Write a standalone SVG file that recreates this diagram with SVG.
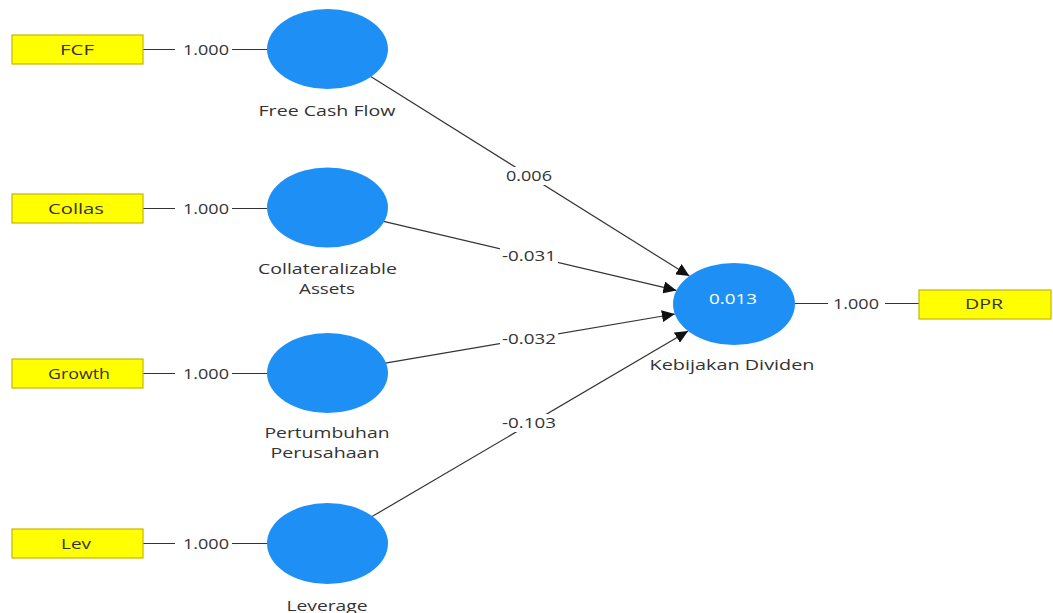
<svg xmlns="http://www.w3.org/2000/svg" width="1053" height="613" viewBox="0 0 1053 613">
<style>
.ind{fill:#ffff00;stroke:#c8b400;stroke-width:1.2}
.lv{fill:#1e90f5}
.ln{stroke:#333;stroke-width:1.2;fill:none}
.t{font-family:"Open Sans","Liberation Sans",sans-serif;font-size:15px;fill:#333;text-anchor:middle}
.w{fill:#fff}
</style>
<defs>
<marker id="ah" markerUnits="userSpaceOnUse" markerWidth="14" markerHeight="12" refX="13" refY="6" orient="auto">
<path d="M0,0 L13,6 L0,12 z" fill="#111"/>
</marker>
</defs>
<rect width="1053" height="613" fill="#fff"/>
<g id="connectors">
<line class="ln" x1="143" y1="49.5" x2="267" y2="49.5"/>
<line class="ln" x1="143" y1="208.5" x2="267" y2="208.5"/>
<line class="ln" x1="143" y1="373.5" x2="267" y2="373.5"/>
<line class="ln" x1="143" y1="543.5" x2="267" y2="543.5"/>
<line class="ln" x1="795" y1="303.5" x2="919" y2="303.5"/>
<line class="ln" x1="370.7" y1="76.4" x2="689.4" y2="276.1" marker-end="url(#ah)"/>
<line class="ln" x1="383.6" y1="221.3" x2="676.4" y2="290.4" marker-end="url(#ah)"/>
<line class="ln" x1="385.2" y1="363.1" x2="674.9" y2="314.0" marker-end="url(#ah)"/>
<line class="ln" x1="372.0" y1="516.6" x2="688.1" y2="331.0" marker-end="url(#ah)"/>
<rect class="w" x="175" y="41" width="57" height="17"/>
<rect class="w" x="175" y="200" width="57" height="17"/>
<rect class="w" x="175" y="365" width="57" height="17"/>
<rect class="w" x="175" y="535" width="57" height="17"/>
<rect class="w" x="828" y="295" width="57" height="17"/>
<rect class="w" x="504" y="167" width="50" height="18"/>
<rect class="w" x="500" y="247" width="58" height="18"/>
<rect class="w" x="500" y="330" width="58" height="18"/>
<rect class="w" x="500" y="414" width="58" height="18"/>
<text class="t" x="206" y="54.5" textLength="46" lengthAdjust="spacingAndGlyphs">1.000</text>
<text class="t" x="206" y="213.5" textLength="46" lengthAdjust="spacingAndGlyphs">1.000</text>
<text class="t" x="206" y="378.5" textLength="46" lengthAdjust="spacingAndGlyphs">1.000</text>
<text class="t" x="206" y="548.5" textLength="46" lengthAdjust="spacingAndGlyphs">1.000</text>
<text class="t" x="856" y="308.5" textLength="46" lengthAdjust="spacingAndGlyphs">1.000</text>
<text class="t" x="529" y="181" textLength="46" lengthAdjust="spacingAndGlyphs">0.006</text>
<text class="t" x="529" y="261" textLength="54" lengthAdjust="spacingAndGlyphs">-0.031</text>
<text class="t" x="529" y="344" textLength="54" lengthAdjust="spacingAndGlyphs">-0.032</text>
<text class="t" x="529" y="428" textLength="54" lengthAdjust="spacingAndGlyphs">-0.103</text>
</g>
<g id="FCF">
<rect class="ind" x="12" y="35" width="131" height="29"/>
<text class="t" x="77" y="55" textLength="34" lengthAdjust="spacingAndGlyphs">FCF</text>
</g>
<g id="Collas">
<rect class="ind" x="12" y="194" width="131" height="29"/>
<text class="t" x="76" y="213.5" textLength="56" lengthAdjust="spacingAndGlyphs">Collas</text>
</g>
<g id="Growth">
<rect class="ind" x="12" y="359" width="131" height="29"/>
<text class="t" x="79" y="378.5" textLength="62" lengthAdjust="spacingAndGlyphs">Growth</text>
</g>
<g id="Lev">
<rect class="ind" x="12" y="529" width="131" height="29"/>
<text class="t" x="76" y="548.5" textLength="30" lengthAdjust="spacingAndGlyphs">Lev</text>
</g>
<g id="DPR">
<rect class="ind" x="919" y="290" width="132" height="29"/>
<text class="t" x="984" y="309" textLength="38" lengthAdjust="spacingAndGlyphs">DPR</text>
</g>
<g id="FreeCashFlow">
<ellipse class="lv" cx="327.5" cy="49" rx="60.5" ry="40"/>
<text class="t" x="327" y="116" textLength="137" lengthAdjust="spacingAndGlyphs">Free Cash Flow</text>
</g>
<g id="CollateralizableAssets">
<ellipse class="lv" cx="327.5" cy="207.5" rx="60.5" ry="40"/>
<text class="t" x="327.5" y="273.5" textLength="139" lengthAdjust="spacingAndGlyphs">Collateralizable</text>
<text class="t" x="327" y="293.5" textLength="56" lengthAdjust="spacingAndGlyphs">Assets</text>
</g>
<g id="PertumbuhanPerusahaan">
<ellipse class="lv" cx="327.5" cy="373" rx="60.5" ry="40"/>
<text class="t" x="327" y="438" textLength="125" lengthAdjust="spacingAndGlyphs">Pertumbuhan</text>
<text class="t" x="325" y="458" textLength="109" lengthAdjust="spacingAndGlyphs">Perusahaan</text>
</g>
<g id="Leverage">
<ellipse class="lv" cx="327.5" cy="543.5" rx="60.5" ry="40.5"/>
<text class="t" x="327" y="611" textLength="81" lengthAdjust="spacingAndGlyphs">Leverage</text>
</g>
<g id="KebijakanDividen">
<ellipse class="lv" cx="734" cy="304" rx="61" ry="41"/>
<text class="t" x="733" y="304" textLength="48" lengthAdjust="spacingAndGlyphs" style="fill:#fff">0.013</text>
<text class="t" x="732" y="370" textLength="165" lengthAdjust="spacingAndGlyphs">Kebijakan Dividen</text>
</g>
</svg>
